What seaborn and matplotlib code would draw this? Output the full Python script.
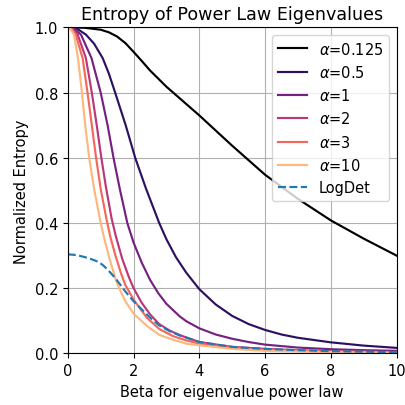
import numpy as np
import pandas as pd
import matplotlib
matplotlib.use("Agg")
import matplotlib.pyplot as plt
import seaborn as sns

# values
alphas = ["0.125", "0.5", "1", "2", "3", "10"]

beta_a0125 = [0, 0.5, 0.75, 1.0, 1.25, 1.5, 1.75, 2.0, 2.25, 2.5, 3.0, 3.5, 4.0, 5.0, 6.0, 7.0, 8.0, 9.0, 10.0]
ent_a0125 = [1.0, 0.999, 0.996, 0.993, 0.985, 0.972, 0.952, 0.925, 0.897, 0.868, 0.818, 0.774, 0.73, 0.637, 0.548, 0.474, 0.408, 0.352, 0.30]

beta_a05 = [0, 0.25, 0.55, 0.8, 1.06, 1.25, 1.44, 1.76, 2.05, 2.38, 2.78, 3.0, 3.29, 3.6, 4.0, 4.5, 5.0, 5.5, 6.0, 6.5, 7.0, 8.0, 9.0, 10.0]
ent_a05 = [1.0, 0.998, 0.978, 0.95, 0.906, 0.858, 0.80, 0.70, 0.60, 0.505, 0.40, 0.35, 0.295, 0.248, 0.197, 0.15, 0.115, 0.09, 0.072, 0.058, 0.048, 0.034, 0.024, 0.017]

beta_a1 = [0, 0.2, 0.4, 0.72, 1.0, 1.21, 1.39, 1.58, 1.81, 2.0, 2.25, 2.5, 2.75, 3.0, 3.4, 3.6, 4.0, 4.5, 5.0, 5.5, 6.0, 7.0, 8.0, 9.0, 10.0]
ent_a1 = [1.0, 0.995, 0.978, 0.906, 0.80, 0.70, 0.60, 0.505, 0.40, 0.34, 0.278, 0.226, 0.185, 0.152, 0.114, 0.099, 0.077, 0.058, 0.045, 0.035, 0.027, 0.018, 0.013, 0.010, 0.008]

beta_a2 = [0, 0.15, 0.30, 0.55, 0.73, 0.88, 1.02, 1.16, 1.33, 1.46, 1.65, 1.85, 2.0, 2.25, 2.5, 2.78, 3.1, 3.41, 4.0, 5.0, 6.0, 7.0, 8.0, 10.0]
ent_a2 = [1.0, 0.995, 0.978, 0.906, 0.80, 0.70, 0.60, 0.51, 0.415, 0.36, 0.292, 0.236, 0.20, 0.155, 0.12, 0.09, 0.07, 0.056, 0.035, 0.02, 0.014, 0.01, 0.007, 0.004]

beta_a3 = [0, 0.12, 0.24, 0.45, 0.60, 0.73, 0.86, 1.0, 1.18, 1.3, 1.45, 1.62, 1.75, 2.0, 2.4, 2.78, 3.2, 3.6, 4.0, 5.0, 6.0, 8.0, 10.0]
ent_a3 = [1.0, 0.995, 0.978, 0.906, 0.80, 0.70, 0.60, 0.505, 0.41, 0.355, 0.30, 0.245, 0.21, 0.165, 0.11, 0.075, 0.053, 0.04, 0.03, 0.017, 0.011, 0.006, 0.003]

beta_a10 = [0, 0.08, 0.19, 0.31, 0.43, 0.53, 0.65, 0.80, 1.0, 1.11, 1.27, 1.45, 1.54, 1.75, 2.0, 2.4, 2.78, 3.2, 3.6, 4.0, 5.0, 6.0, 8.0, 10.0]
ent_a10 = [1.0, 0.995, 0.978, 0.906, 0.80, 0.70, 0.60, 0.505, 0.40, 0.352, 0.29, 0.229, 0.205, 0.16, 0.122, 0.085, 0.057, 0.042, 0.03, 0.025, 0.014, 0.008, 0.004, 0.002]

beta_logdet = [0, 0.25, 0.5, 0.75, 0.95, 1.1, 1.25, 1.46, 1.75, 2.0, 2.5, 2.78, 3.1, 3.41, 4.0, 5.0, 6.0, 7.0, 8.0, 10.0]
ent_logdet = [0.304, 0.302, 0.296, 0.288, 0.28, 0.268, 0.253, 0.229, 0.19, 0.16, 0.11, 0.086, 0.068, 0.055, 0.035, 0.02, 0.014, 0.01, 0.007, 0.004]

betas = [beta_a0125, beta_a05, beta_a1, beta_a2, beta_a3, beta_a10]
ents = [ent_a0125, ent_a05, ent_a1, ent_a2, ent_a3, ent_a10]

# long-form table for seaborn
rows = []
for a, b, e in zip(alphas, betas, ents):
    for bb, ee in zip(b, e):
        rows.append((rf"$\alpha$={a}", bb, ee))
df = pd.DataFrame(rows, columns=["alpha", "beta", "entropy"])

colors = [plt.cm.magma(v) for v in np.linspace(0, 0.85, 6)]

plt.rcParams["font.size"] = 10.5

fig, ax = plt.subplots(figsize=(4.06, 4.06), dpi=100)
fig.subplots_adjust(left=0.167, right=0.977, top=0.93, bottom=0.127)

sns.lineplot(data=df, x="beta", y="entropy", hue="alpha", palette=colors,
             linewidth=1.55, ax=ax, sort=False)
sns.lineplot(x=beta_logdet, y=ent_logdet, color="tab:blue", linestyle="--",
             linewidth=1.55, label="LogDet", ax=ax)

ax.set_xlim(0, 10)
ax.set_ylim(0, 1)
ax.grid(True)
ax.set_title("Entropy of Power Law Eigenvalues")
ax.set_xlabel("Beta for eigenvalue power law")
ax.set_ylabel("Normalized Entropy")
ax.legend(loc="upper right", title=None)

plt.savefig("out.png", dpi=100)
